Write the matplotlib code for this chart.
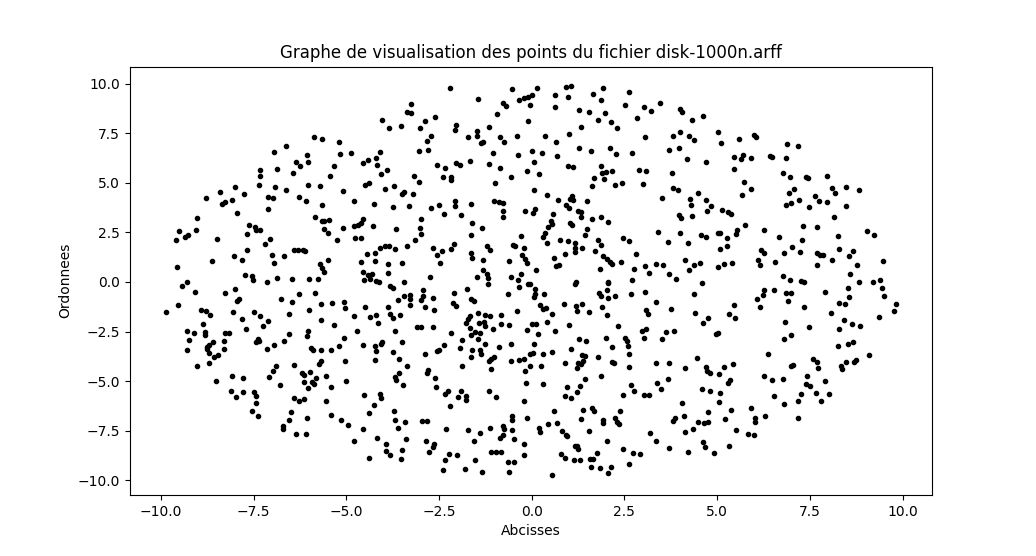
import matplotlib
matplotlib.use('Agg')
import matplotlib.pyplot as plt

# points relus sur l'image, par zone (abscisse, ordonnee)
haut_gauche = [
    (-4.03,8.15),(-3.85,7.76),(-5.87,7.31),(-5.66,7.21),(-5.20,7.06),(-6.63,6.85),(-6.94,6.57),(-5.17,6.45),
    (-4.87,6.50),(-4.09,6.55),(-6.06,6.40),(-4.20,6.25),(-6.03,6.05),(-6.36,6.05),(-6.25,5.84),(-4.55,6.00),
    (-4.42,6.15),(-4.17,5.89),(-5.33,5.84),(-6.87,5.69),(-7.33,5.64),(-7.33,5.34),(-6.44,5.49),(-5.44,5.34),
    (-3.90,5.64),(-4.07,5.44),(-7.35,4.88),(-6.92,4.78),(-6.03,4.88),(-5.71,4.83),(-4.50,4.88),(-4.39,4.98),
    (-3.72,4.83),(-3.96,4.68),(-8.00,4.78),(-8.41,4.53),(-7.76,4.43),(-8.78,4.23),(-6.63,4.63),(-5.09,4.58),
    (-7.11,4.28),(-6.98,4.23),(-6.28,4.28),(-6.09,4.08),(-8.08,4.13),(-8.27,4.03),(-8.35,3.92),(-4.79,4.08),
    (-4.25,3.92),(-5.66,3.87),(-3.74,3.77),(-7.11,3.67),(-7.95,3.47),(-9.03,3.22),(-5.84,3.27),(-5.66,3.07),
    (-5.60,3.07),(-5.47,3.12),(-4.55,3.17),(-4.60,2.96),(-4.69,2.86),(-4.79,2.81),(-4.28,2.81),(-7.62,2.86),
    (-7.46,2.75),(-7.43,2.61),(-7.33,2.61),(-5.09,2.71),(-5.60,2.66),(-5.49,2.46),(-3.66,2.66),(-9.51,2.56),
    (-9.05,2.61),(-7.68,2.41),(-9.27,2.36),(-9.35,2.26),(-9.59,2.11),(-8.49,2.16),(-7.06,2.16),(-7.19,1.90),
    (-5.25,2.11),(-4.77,2.21),(-4.60,2.21),(-7.68,1.60),(-6.41,1.60),(-6.30,1.60),(-6.17,1.60),(-6.11,1.55),
    (-4.09,1.70),(-3.96,1.80),(-3.85,1.80),(-3.69,1.65),(-4.44,1.42),(-4.23,1.45),(-7.00,1.35),(-6.68,1.30),
    (-8.03,1.30),(-7.81,1.10),(-8.62,1.05),(-6.95,0.94),(-5.49,1.10),(-5.71,0.89),(-5.66,0.69),(-5.60,0.49),
    (-4.60,0.99),(-4.23,1.05),(-3.88,0.89),(-9.56,0.74),(-4.55,0.49),(-4.31,0.39),(-4.42,0.34),(-3.88,0.44),
    (-7.73,0.34),(-7.54,0.29),(-7.52,0.09),(-7.14,0.00),(-6.87,0.19),(-6.46,0.14),(-6.01,0.14),(-5.76,0.14),
    (-9.29,0.00),(-4.52,0.09),(-4.36,0.14),(-4.20,0.04),(-4.12,0.00),
]
bas_gauche = [
    (-9.43,-0.22),(-9.08,-0.52),(-8.27,-0.57),(-8.00,-0.37),(-7.89,-0.88),(-7.94,-0.94),(-6.76,-0.88),(-6.28,-0.62),
    (-6.46,-1.03),(-5.84,-0.57),(-5.68,-1.13),(-5.39,-1.08),(-5.06,-1.03),(-5.04,-1.33),(-4.50,-1.28),(-3.88,-1.28),
    (-3.82,-0.22),(-3.74,-0.32),(-3.61,-0.93),(-9.54,-1.18),(-9.86,-1.53),(-8.92,-1.43),(-8.78,-1.48),(-8.67,-1.68),
    (-8.05,-1.53),(-7.49,-1.53),(-7.33,-1.73),(-7.81,-1.89),(-7.11,-1.99),(-7.25,-2.24),(-6.55,-1.63),(-6.01,-1.43),
    (-5.68,-1.94),(-5.33,-2.19),(-4.79,-1.73),(-4.36,-1.78),(-4.20,-1.68),(-4.15,-2.09),(-3.82,-1.63),(-3.74,-1.84),
    (-8.86,-2.14),(-7.70,-2.39),(-9.29,-2.49),(-9.11,-2.59),(-8.81,-2.54),(-8.81,-2.69),(-8.27,-2.59),(-8.16,-2.59),
    (-6.03,-2.49),(-6.06,-2.74),(-6.55,-2.64),(-4.71,-2.49),(-3.69,-2.49),(-9.24,-2.95),(-8.30,-3.00),(-8.59,-3.05),
    (-8.70,-3.20),(-8.76,-3.30),(-7.38,-2.90),(-7.35,-3.00),(-7.43,-3.05),(-6.95,-3.20),(-6.68,-3.00),(-5.06,-2.85),
    (-5.20,-3.25),(-4.55,-3.20),(-4.23,-3.25),(-4.04,-3.05),(-4.07,-3.15),(-9.29,-3.45),(-8.76,-3.40),(-8.30,-3.40),
    (-7.14,-3.40),(-5.95,-3.35),(-5.90,-3.45),(-5.68,-3.45),(-5.41,-3.45),(-4.20,-3.50),(-3.74,-3.55),(-8.70,-3.60),
    (-8.46,-3.70),(-8.57,-3.80),(-3.58,-3.91),(-8.70,-4.11),(-9.03,-4.26),(-5.04,-4.01),(-4.23,-3.96),(-5.68,-4.01),
    (-5.74,-4.16),(-6.90,-4.26),(-6.41,-4.21),(-6.98,-4.51),(-6.19,-4.61),(-6.14,-4.71),(-5.98,-4.56),(-7.08,-4.81),
    (-5.55,-4.76),(-8.08,-4.76),(-7.79,-4.87),(-8.51,-5.02),(-5.82,-4.87),(-5.93,-5.07),(-6.14,-5.07),(-5.87,-5.17),
    (-5.01,-5.02),(-3.69,-4.81),(-3.66,-4.97),(-3.58,-4.61),(-6.79,-5.22),(-6.03,-5.37),(-5.41,-5.32),(-8.11,-5.52),
    (-7.79,-5.57),(-7.49,-5.57),(-7.43,-5.77),(-7.97,-5.82),(-4.52,-5.72),(-4.09,-5.67),(-4.07,-5.88),(-6.41,-5.88),
    (-6.28,-6.03),(-6.14,-5.93),(-5.55,-6.03),(-7.43,-6.13),(-4.25,-6.23),(-7.54,-6.53),(-6.49,-6.58),(-4.39,-6.63),
    (-3.72,-6.53),(-7.38,-6.78),(-5.41,-6.73),(-6.06,-6.84),(-6.55,-6.99),(-5.14,-6.99),(-3.69,-6.99),(-4.95,-7.24),
    (-6.71,-7.29),(-6.71,-7.42),(-4.55,-7.44),(-3.61,-7.39),(-6.36,-7.69),(-6.09,-7.69),(-4.17,-7.85),(-4.79,-8.05),
    (-3.93,-8.20),(-3.93,-8.55),(-3.82,-8.75),(-4.39,-8.86),
]
haut_centre = [
    (-2.20,9.78),(-1.45,9.23),(-0.53,9.73),(0.14,9.78),(0.92,9.83),(1.06,9.88),(1.65,9.48),(1.92,9.78),
    (2.62,9.58),(0.63,9.43),(0.98,9.33),(1.87,9.18),(0.01,9.43),(-0.10,9.33),(-0.21,9.28),(-0.34,9.18),
    (-0.77,9.04),(-0.69,8.87),(-0.05,8.92),(-3.25,8.97),(0.63,8.82),(2.51,8.92),(3.03,8.82),(3.46,9.03),
    (3.21,8.62),(1.27,8.67),(1.54,8.57),(1.97,8.52),(-3.36,8.57),(-3.25,8.52),(-0.94,8.47),(-2.61,8.32),
    (2.84,8.27),(-2.88,8.12),(-0.10,8.12),(1.79,8.17),(2.14,8.07),(-2.04,7.91),(-3.53,7.86),(-3.01,7.76),
    (-2.07,7.66),(-1.15,7.81),(1.33,7.81),(2.30,7.76),(-1.48,7.61),(-1.48,7.36),(-1.72,7.31),(-2.72,7.36),
    (-0.86,7.31),(-0.40,7.36),(0.36,7.36),(1.00,7.46),(3.05,7.31),(-2.82,7.11),(-1.31,7.04),(-1.36,7.00),
    (-0.75,7.06),(0.65,7.06),(-3.04,6.60),(-2.80,6.65),(1.27,6.75),(1.60,6.60),(2.11,6.75),(2.27,6.45),
    (2.70,6.50),(3.70,6.65),(-1.04,6.50),(-0.37,6.40),(0.01,6.60),(0.28,6.50),(0.68,6.35),(-1.66,6.10),
    (-2.04,6.00),(-1.93,5.89),(-1.15,5.94),(0.06,6.05),(-2.55,5.89),(-2.34,5.74),(-0.86,5.74),(0.98,5.84),
    (1.11,5.79),(1.87,5.84),(-0.13,5.59),(0.20,5.44),(1.89,5.49),(2.00,5.54),(2.16,5.59),(2.89,5.64),
    (3.08,5.59),(-3.17,5.34),(-2.39,5.29),(-2.18,5.29),(-2.18,5.14),(-0.56,5.29),(1.68,5.24),(1.95,5.19),
    (-3.04,5.04),(-0.99,4.98),(2.24,4.88),(2.43,4.98),(3.00,4.93),(1.62,4.83),(0.06,4.63),(-3.45,4.53),
    (-3.50,4.43),(-3.20,4.43),(0.41,4.38),(1.09,4.33),(0.71,4.13),(1.03,4.18),(1.11,4.13),(1.49,4.08),
    (3.51,4.23),(-2.07,4.08),(-1.02,4.08),(-0.88,4.03),(-0.77,3.97),(-1.64,3.92),(-2.50,3.87),(-2.07,3.82),
    (-3.31,3.82),(-2.72,3.72),(0.92,3.87),(1.00,3.72),(-2.37,3.42),(-1.91,3.37),(-0.77,3.57),(-0.77,3.27),
    (-0.18,3.57),(0.09,3.67),(0.03,3.47),(1.25,3.57),(1.33,3.52),(1.33,3.27),(0.57,3.42),(1.62,3.17),
    (1.87,3.27),(2.06,3.01),(-2.98,3.17),(-1.61,2.96),(0.52,3.07),(0.55,2.91),(0.44,2.76),(1.03,2.96),
    (1.09,2.86),(-3.01,2.71),(-1.34,2.71),(1.49,2.66),(3.40,2.51),(0.36,2.46),(-2.98,2.41),(-1.64,2.36),
    (-0.29,2.31),(0.30,2.26),(1.44,2.36),(-3.15,2.11),(2.46,2.21),(2.62,2.06),(3.67,2.00),(0.41,1.95),
    (0.76,2.11),(0.98,2.07),(1.17,1.95),(1.79,2.11),(-3.36,1.80),(-2.66,1.70),(-2.10,1.90),(-2.18,1.65),
    (-2.42,1.55),(-1.21,1.80),(-1.13,1.60),(-0.51,1.85),(-0.45,1.80),(-0.21,1.70),(1.17,1.70),(1.17,1.50),
    (1.35,1.70),(1.87,1.85),(1.71,1.55),(2.81,1.40),(-1.64,1.45),(-2.55,1.35),(-0.26,1.35),(0.90,1.40),
    (-1.61,1.20),(-1.31,1.10),(-0.61,1.05),(-0.18,1.15),(-0.13,0.94),(0.60,1.20),(1.92,1.30),(2.03,1.15),
    (2.11,0.99),(2.16,0.93),(2.41,0.99),(-3.51,0.94),(-2.47,0.94),(0.73,0.84),(0.65,0.79),(3.35,0.89),
    (3.54,0.84),(3.05,0.79),(2.76,0.64),(1.84,0.64),(-1.31,0.59),(0.11,0.59),(3.16,0.44),(3.70,0.39),
    (-1.21,0.39),(-0.29,0.39),(-2.74,0.24),(-1.48,0.24),(-1.18,0.20),(-0.56,0.24),(-0.37,0.09),(-3.44,0.00),
    (2.70,0.09),(1.19,0.00),(2.06,0.00),
]
bas_centre = [
    (-1.18,-0.12),(-0.34,-0.27),(-0.10,-0.12),(-0.05,-0.12),(0.09,-0.37),(-2.93,-0.42),(-1.75,-0.37),(1.17,-0.12),
    (2.06,-0.07),(2.03,-0.42),(-3.43,-0.72),(-3.28,-0.67),(-3.28,-0.88),(-3.29,-1.14),(-2.93,-0.72),(-2.98,-0.93),
    (-2.66,-0.82),(-2.10,-0.57),(-1.64,-0.88),(-1.56,-0.98),(-0.64,-0.62),(0.06,-0.77),(0.09,-0.62),(0.32,-0.62),
    (1.81,-0.57),(1.87,-0.72),(2.06,-0.82),(2.24,-0.72),(2.68,-0.62),(3.05,-0.52),(3.35,-1.03),(-2.12,-1.08),
    (-2.04,-1.23),(-2.88,-1.28),(-2.63,-1.43),(-0.40,-1.48),(0.22,-1.18),(0.30,-1.38),(0.38,-1.33),(0.87,-1.13),
    (1.19,-1.23),(1.35,-1.13),(1.22,-1.48),(1.54,-1.53),(1.89,-1.28),(3.08,-1.43),(3.13,-1.63),(-3.56,-1.68),
    (-1.45,-1.58),(-1.26,-1.68),(-1.13,-1.73),(-0.83,-1.68),(0.55,-1.63),(2.03,-1.68),(-1.66,-1.73),(-1.72,-1.89),
    (-1.77,-2.09),(-1.42,-2.09),(-1.29,-2.04),(-0.83,-2.14),(-0.61,-2.19),(0.41,-2.04),(0.01,-2.14),(0.11,-2.14),
    (1.00,-2.19),(2.33,-2.24),(-3.09,-2.29),(-2.98,-2.29),(-2.66,-2.29),(-1.66,-2.34),(-1.26,-2.24),(-1.04,-2.39),
    (-0.13,-2.44),(0.63,-2.49),(3.08,-2.39),(2.97,-2.49),(3.62,-2.54),(-2.18,-2.59),(-1.53,-2.54),(-1.39,-2.59),
    (-1.64,-2.69),(0.17,-2.64),(-1.45,-2.90),(-1.88,-2.95),(1.27,-2.90),(1.46,-3.00),(2.00,-2.85),(2.51,-2.85),
    (3.03,-2.85),(3.51,-2.90),(2.57,-3.00),(-3.50,-3.05),(-2.37,-3.20),(-1.26,-3.15),(-0.56,-3.15),(0.06,-3.15),
    (2.59,-3.25),(-1.93,-3.35),(-0.88,-3.30),(2.16,-3.30),(1.06,-3.40),(-1.61,-3.45),(-1.39,-3.45),(-2.50,-3.45),
    (-2.55,-3.50),(0.55,-3.55),(-2.88,-3.65),(-1.37,-3.65),(-0.05,-3.65),(0.03,-3.60),(0.30,-3.65),(1.35,-3.70),
    (1.44,-3.75),(2.62,-3.65),(-1.64,-3.80),(-1.02,-3.80),(-1.10,-3.91),(1.79,-3.80),(-1.15,-4.01),(-0.56,-4.01),
    (-0.34,-3.96),(-0.21,-3.91),(0.90,-4.11),(2.16,-4.06),(2.22,-4.11),(3.35,-4.11),(3.70,-4.11),(1.38,-4.01),
    (1.33,-4.16),(1.25,-4.11),(-3.36,-4.26),(-1.88,-4.26),(-0.05,-4.26),(0.25,-4.26),(1.22,-4.36),(2.62,-4.31),
    (-1.10,-4.41),(-2.80,-4.46),(-2.82,-4.61),(-0.18,-4.51),(1.87,-4.76),(-2.60,-4.87),(1.44,-4.92),(3.67,-4.92),
    (-0.15,-5.12),(0.30,-5.17),(3.38,-5.12),(-3.47,-5.22),(-2.58,-5.32),(0.95,-5.32),(1.30,-5.27),(2.68,-5.22),
    (3.48,-5.42),(-2.26,-5.52),(-1.91,-5.52),(-1.15,-5.52),(1.22,-5.57),(2.76,-5.52),(-2.34,-5.67),(0.90,-5.77),
    (2.46,-5.72),(3.03,-5.72),(3.16,-5.72),(-1.99,-5.82),(-1.77,-5.77),(-1.77,-5.98),(-0.96,-5.82),(1.06,-5.88),
    (-0.21,-6.03),(-2.20,-6.28),(1.62,-6.38),(1.68,-6.53),(0.60,-6.53),(1.38,-6.48),(2.38,-6.53),(-0.53,-6.78),
    (-0.53,-6.99),(-0.13,-6.84),(2.24,-6.84),(1.33,-6.94),(1.92,-6.99),(1.92,-7.14),(-3.42,-7.09),(-2.96,-7.04),
    (-2.82,-7.04),(2.30,-7.09),(2.35,-7.19),(0.44,-7.19),(0.68,-7.14),(-0.77,-7.29),(-0.75,-7.44),(-2.31,-7.44),
    (-1.72,-7.49),(-1.13,-7.39),(-0.53,-7.49),(0.20,-7.39),(0.22,-7.59),(0.82,-7.54),(1.54,-7.54),(-1.39,-7.64),
    (3.19,-7.64),(-0.77,-7.74),(-0.86,-7.85),(0.92,-7.74),(0.95,-7.79),(-3.39,-7.90),(-0.48,-7.90),(-1.56,-8.05),
    (-2.85,-8.05),(2.03,-8.05),(3.35,-8.05),(-0.21,-8.20),(-2.63,-8.20),(-2.66,-8.35),(1.17,-8.30),(1.22,-8.30),
    (1.25,-8.45),(-3.50,-8.50),(2.46,-8.45),(3.70,-8.40),(-2.77,-8.60),(-1.10,-8.60),(-0.96,-8.60),(-0.83,-8.60),
    (-2.23,-8.70),(-2.01,-8.75),(-0.21,-8.75),(0.79,-8.70),(0.90,-8.86),(1.76,-8.65),(2.73,-8.65),(2.92,-8.70),
    (-3.52,-8.91),(-2.34,-8.96),(-1.53,-8.96),(-0.64,-9.06),(-0.48,-9.06),(1.14,-8.96),(1.30,-8.96),(1.57,-8.91),
    (1.65,-8.91),(2.62,-9.21),(-2.39,-9.51),(-1.80,-9.46),(-1.34,-9.61),(-0.61,-9.61),(1.60,-9.36),(1.84,-9.41),
    (2.14,-9.36),(2.06,-9.66),(0.55,-9.76),
]
haut_droite = [
    (4.00,8.72),(4.05,8.57),(4.62,8.37),(4.32,8.17),(4.00,7.56),(3.81,7.36),(4.24,7.36),(4.38,7.16),
    (5.02,7.56),(5.10,7.00),(5.59,7.21),(5.99,7.44),(6.05,7.31),(6.88,6.95),(7.18,6.85),(3.97,6.75),
    (4.19,6.20),(4.70,6.05),(5.45,6.30),(5.70,6.40),(5.64,6.20),(5.91,6.25),(6.42,6.35),(6.48,6.30),
    (6.86,6.25),(5.45,5.69),(3.78,5.49),(6.77,5.49),(6.96,5.29),(7.39,5.29),(7.45,5.24),(7.96,5.34),
    (5.72,5.04),(3.81,4.73),(3.94,4.63),(5.91,4.68),(7.07,4.68),(6.94,4.48),(8.10,4.73),(8.18,4.48),
    (8.47,4.78),(8.82,4.63),(4.48,4.48),(5.67,4.38),(7.64,4.33),(4.27,4.18),(4.70,4.13),(7.21,4.13),
    (7.75,4.08),(7.96,4.03),(4.30,3.87),(4.83,3.82),(6.86,3.87),(6.99,3.97),(7.48,3.77),(8.47,3.82),
    (4.73,3.57),(5.13,3.62),(5.29,3.52),(5.37,3.42),(3.97,3.37),(4.03,3.22),(4.32,3.32),(8.15,3.27),
    (5.75,2.86),(7.31,2.81),(7.69,2.76),(5.53,2.61),(6.26,2.61),(9.04,2.56),(4.00,2.46),(5.02,2.46),
    (5.09,2.46),(5.51,2.41),(4.56,2.36),(4.70,2.26),(5.27,2.21),(6.67,2.26),(8.26,2.31),(9.23,2.36),
    (7.29,2.11),(4.21,1.95),(5.27,1.80),(5.08,1.65),(7.02,1.75),(8.28,1.65),(8.66,1.55),(6.18,1.60),
    (6.26,1.45),(6.80,1.45),(7.23,1.50),(7.69,1.45),(7.77,1.35),(7.85,1.35),(8.55,1.30),(6.10,1.10),
    (4.13,1.10),(6.56,0.99),(8.10,1.10),(9.47,1.05),(4.54,0.94),(4.38,0.84),(5.18,0.89),(5.40,0.94),
    (6.15,0.84),(7.69,0.84),(8.77,0.84),(5.02,0.74),(4.24,0.59),(8.58,0.39),(6.77,0.29),(3.89,0.14),
    (6.96,0.09),(7.26,0.04),(7.34,0.00),(4.59,-0.05),(8.82,0.00),(9.20,0.00),(9.39,0.09),
]
bas_droite = [
    (4.38,-0.62),(6.26,-0.42),(6.53,-0.42),(6.24,-0.67),(6.07,-0.88),(6.86,-0.57),(6.99,-0.57),(6.91,-0.98),
    (7.91,-0.52),(8.53,-0.32),(8.55,-0.77),(9.44,-0.32),(9.50,-0.72),(8.28,-1.08),(8.45,-1.13),(9.82,-1.13),
    (5.45,-1.18),(6.15,-1.26),(7.34,-1.28),(3.76,-1.38),(9.77,-1.48),(4.40,-1.58),(5.32,-1.63),(8.07,-1.58),
    (4.75,-1.84),(5.48,-1.84),(9.36,-1.78),(4.62,-2.09),(6.83,-2.04),(8.42,-1.94),(8.63,-2.14),(8.85,-2.24),
    (7.48,-2.29),(8.28,-2.39),(3.84,-2.49),(5.02,-2.59),(4.97,-2.64),(6.99,-2.69),(6.80,-2.90),(8.66,-3.05),
    (8.53,-3.15),(8.26,-3.25),(6.37,-3.65),(9.09,-3.70),(7.58,-3.91),(7.69,-4.06),(4.46,-3.86),(5.43,-4.16),
    (8.47,-4.06),(8.74,-3.96),(8.69,-4.06),(8.34,-4.26),(8.37,-4.41),(7.04,-4.21),(6.99,-4.26),(7.72,-4.36),
    (4.13,-4.36),(4.70,-4.31),(5.18,-4.31),(4.73,-4.51),(4.81,-4.61),(5.05,-4.66),(6.26,-4.76),(7.42,-4.76),
    (6.48,-4.97),(6.77,-4.92),(5.35,-4.97),(5.29,-5.12),(7.91,-5.02),(7.39,-5.17),(7.50,-5.27),(4.59,-5.42),
    (4.81,-5.52),(5.08,-5.62),(7.66,-5.62),(7.26,-5.67),(8.01,-5.67),(6.53,-5.77),(7.18,-6.03),(7.80,-6.03),
    (4.05,-6.13),(5.05,-6.08),(6.80,-6.18),(5.91,-6.38),(5.37,-6.48),(4.75,-6.58),(4.11,-6.78),(6.29,-6.78),
    (7.18,-6.84),(6.02,-6.84),(3.86,-6.87),(3.81,-7.04),(5.20,-6.94),(6.02,-7.09),(4.48,-7.09),(4.65,-7.14),
    (4.75,-7.09),(4.35,-7.44),(4.13,-7.59),(5.51,-7.49),(5.83,-7.69),(5.99,-7.74),(4.62,-8.10),(4.67,-8.35),
    (5.32,-8.30),(4.21,-8.60),(4.91,-8.65),
]

zones = haut_gauche + bas_gauche + haut_centre + bas_centre + haut_droite + bas_droite
abscisses = [p[0] for p in zones]
ordonnees = [p[1] for p in zones]

fig, ax = plt.subplots(figsize=(10.36, 5.56), dpi=100)
ax.scatter(abscisses, ordonnees, marker='.', color='black')
ax.set_title("Graphe de visualisation des points du fichier disk-1000n.arff")
ax.set_xlabel("Abcisses")
ax.set_ylabel("Ordonnees")
plt.savefig("out.png", dpi=100)
